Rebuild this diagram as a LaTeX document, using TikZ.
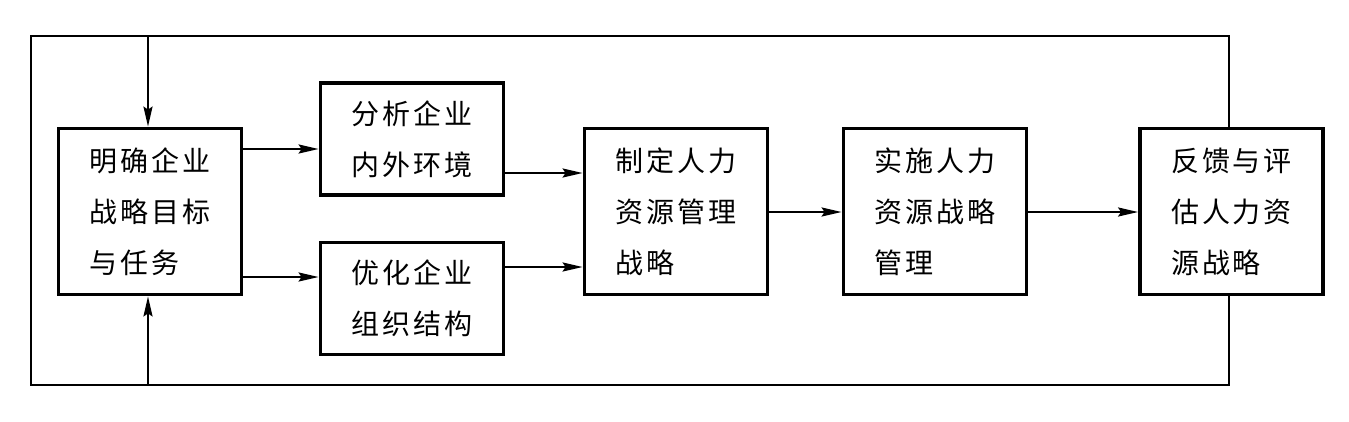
\documentclass[tikz,border=0pt]{standalone}
\usepackage{fontspec}
\newfontfamily\cjk[LetterSpace=10]{Noto Sans CJK SC}
\usetikzlibrary{arrows.meta}
\begin{document}
\begin{tikzpicture}[x=1pt,y=-1pt,
  box/.style={draw,line width=3.8pt,inner sep=0pt,align=left,
    font=\cjk\fontsize{28}{51}\selectfont,minimum width=183pt},
  tall/.style={box,minimum height=166pt},
  short/.style={box,minimum height=112pt},
  conn/.style={line width=2.3pt},
  loop/.style={line width=2.6pt},
  arr/.style={conn,-{Stealth[length=20pt,width=9pt,inset=3pt]}}]
\useasboundingbox (0,0) rectangle (1349,421);
\node[tall]  (b1) at (150,211.5) {明确企业\\战略目标\\与任务};
\node[short] (b2) at (412,139)   {分析企业\\内外环境};
\node[short] (b3) at (412,298.5) {优化企业\\组织结构};
\node[tall]  (b4) at (676,211.5) {制定人力\\资源管理\\战略};
\node[tall]  (b5) at (935,211.5) {实施人力\\资源战略\\管理};
\node[tall]  (b6) at (1231.5,211.5) {反馈与评\\估人力资\\源战略};
\coordinate (tl) at (31,36);
\coordinate (tr) at (1229,36);
\coordinate (bl) at (31,385);
\coordinate (br) at (1229,385);
\coordinate (tin) at (148,36);
\coordinate (bin) at (148,385);
\draw[loop] (b6.north -| tr) -- (tr) -- (tl) -- (bl) -- (br) -- (b6.south -| br);
\draw[arr] (tin) -- (tin |- b1.north);
\draw[arr] (bin) -- (bin |- b1.south);
\draw[arr] (b1.east |- 0,149) -- (b2.west |- 0,149);
\draw[arr] (b1.east |- 0,277) -- (b3.west |- 0,277);
\draw[arr] (b2.east |- 0,173) -- (b4.west |- 0,173);
\draw[arr] (b3.east |- 0,267) -- (b4.west |- 0,267);
\draw[arr] (b4.east |- 0,212) -- (b5.west |- 0,212);
\draw[arr] (b5.east |- 0,212) -- (b6.west |- 0,212);
\end{tikzpicture}
\end{document}
